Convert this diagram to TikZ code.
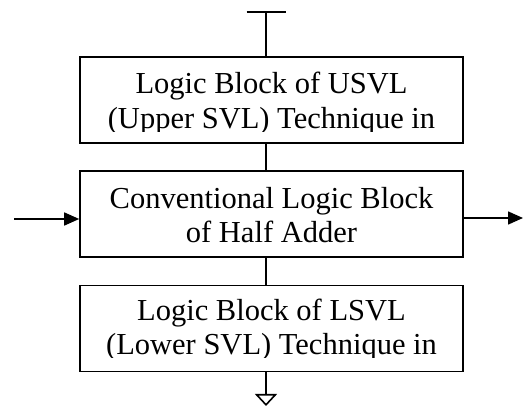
\documentclass[tikz,border=0pt]{standalone}
\usepackage{fontspec}
\setmainfont{Liberation Serif}
\usetikzlibrary{arrows.meta}

\tikzset{
  block/.style={draw=black, line width=1.6pt, minimum width=383pt, minimum height=86pt, inner sep=0pt},
  blocktext/.style={align=center, font=\fontsize{30.5}{34.5}\selectfont, inner sep=0pt, anchor=base},
  wire/.style={line width=1.6pt}
}

\begin{document}
\begin{tikzpicture}[x=1pt,y=1pt]
\useasboundingbox (0,0) rectangle (523,407);

    \node[block] (usvl) at (271.5,307) {};
    \node[block] (conv) at (271.5,193) {};
    \node[block] (lsvl) at (271.5,78.5) {};

    \begin{scope}
      \clip (80,275.5) rectangle (463,350);
      \node[blocktext] (usvltext) at (271.5,278.5) {Logic Block of USVL\\(Upper SVL) Technique in};
    \end{scope}

    \node[blocktext] (convtext) at (271.5,164) {Conventional Logic Block\\of Half Adder};

    \begin{scope}
      \clip (80,49) rectangle (463,121);
      \node[blocktext] (lsvltext) at (271.5,52) {Logic Block of LSVL\\(Lower SVL) Technique in};
    \end{scope}

    \coordinate (top) at (266,396);
    \coordinate (bot) at (266,1);
    \coordinate (inl) at (14,188);
    \coordinate (outr) at (523,189);

      \draw[wire, {Bar[width=39pt]}-] (top) -- (top |- usvl.north);
      \draw[wire] (top |- usvl.south) -- (top |- conv.north);
      \draw[wire] (top |- conv.south) -- (top |- lsvl.north);
      \draw[wire, -{Triangle[open, length=12pt, width=22pt]}] (top |- lsvl.south) -- (bot);

      \draw[wire, -{Triangle[length=15pt, width=13pt]}] (inl) -- (inl -| conv.west);
      \draw[wire, -{Triangle[length=15pt, width=13pt]}] (outr -| conv.east) -- (outr);
\end{tikzpicture}
\end{document}
